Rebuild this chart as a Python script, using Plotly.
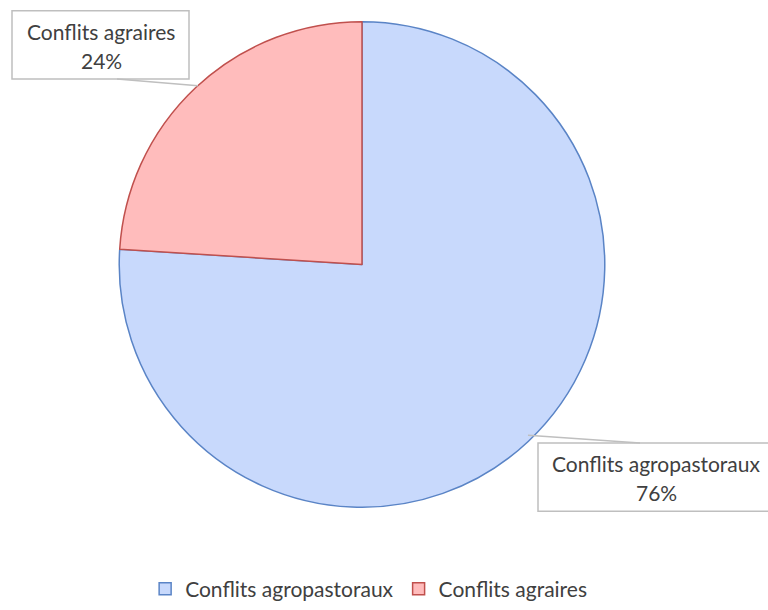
import plotly.graph_objects as go

labels = ["Conflits agropastoraux", "Conflits agraires"]
values = [76, 24]
pct_text = ["76%", "24%"]
fill_colors = ["#c8d9fc", "#ffbcbc"]
line_colors = ["#5a84c6", "#c0504d"]

W, H = 768, 610
cx, cy, r = 362, 268, 246

fig = go.Figure()
fig.add_trace(go.Pie(
    labels=labels, values=values, sort=False, direction="clockwise", rotation=0,
    marker=dict(colors=fill_colors, line=dict(color=line_colors, width=1.5)),
    textinfo="none", hoverinfo="label+percent",
    domain=dict(x=[(cx - r) / W, (cx + r) / W], y=[(H - cy - r) / H, (H - cy + r) / H]),
))


def px(x):
    return x / W


def py(y):
    return 1 - y / H


FONT_FAMILY = "Lato, Open Sans, Liberation Sans, sans-serif"
font = dict(family=FONT_FAMILY, size=21, color="#404040")

# label boxes
fig.add_shape(type="rect", xref="paper", yref="paper",
              x0=px(12), y0=py(80), x1=px(189), y1=py(11),
              fillcolor="white", line=dict(color="#bfbfbf", width=1.5))
fig.add_shape(type="rect", xref="paper", yref="paper",
              x0=px(538), y0=py(518), x1=px(780), y1=py(449),
              fillcolor="white", line=dict(color="#bfbfbf", width=1.5))

# leader lines
fig.add_shape(type="line", xref="paper", yref="paper",
              x0=px(117), y0=py(80), x1=px(198), y1=py(87),
              line=dict(color="#bfbfbf", width=1.5))
fig.add_shape(type="line", xref="paper", yref="paper",
              x0=px(528), y0=py(441), x1=px(640), y1=py(449),
              line=dict(color="#bfbfbf", width=1.5))

# label texts
for text, x, y in [(labels[1], 101, 32), (pct_text[1], 101, 61),
                   (labels[0], 656, 470), (pct_text[0], 656, 499)]:
    fig.add_annotation(xref="paper", yref="paper", x=px(x), y=py(y), text=text,
                       showarrow=False, font=font, xanchor="center", yanchor="middle")

fig.update_layout(
    width=W, height=H, margin=dict(l=0, r=0, t=0, b=0),
    paper_bgcolor="white", plot_bgcolor="white",
    legend=dict(orientation="h", x=0.48, xanchor="center", y=py(597), yanchor="middle",
                font=dict(family=FONT_FAMILY, size=21, color="#404040"),
                itemwidth=30, traceorder="normal"),
    showlegend=True,
)

fig.write_html("out.html", config={"displayModeBar": False},
               post_script="document.body.style.margin='0';document.body.style.overflow='hidden';")
